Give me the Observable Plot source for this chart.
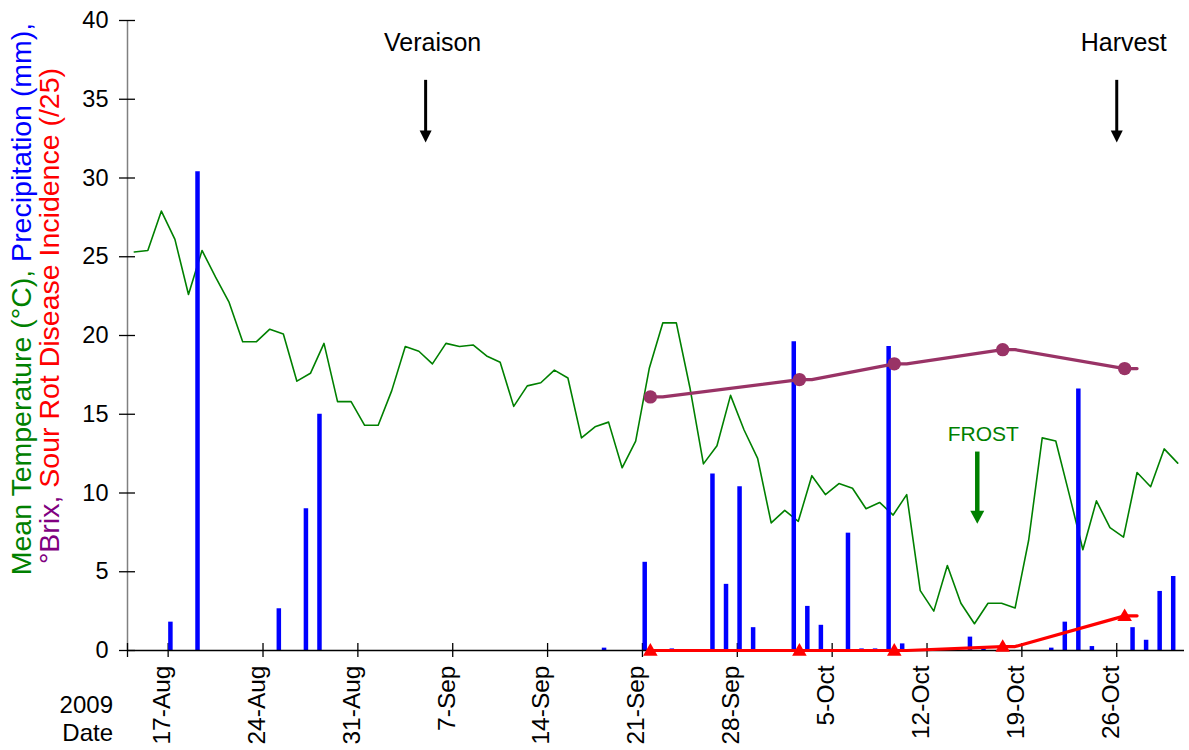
<!DOCTYPE html>
<html>
<head>
<meta charset="utf-8">
<script src="https://cdn.jsdelivr.net/npm/d3@7"></script>
<script src="https://cdn.jsdelivr.net/npm/@observablehq/plot@0.6"></script>
<style>
  body { margin: 0; background: #fff; }
  #chart { width: 1189px; height: 750px; }
</style>
</head>
<body>
<div id="chart"></div>
<script>
// Daily mean temperature (°C), one value per day starting 14 Aug 2009
const tempStart = "2009-08-14";
const temperature = [
  25.3, 25.4, 27.9, 26.1, 22.6, 25.4, 23.7, 22.1, 19.6, 19.6,
  20.4, 20.1, 17.1, 17.6, 19.5, 15.8, 15.8, 14.3, 14.3, 16.5,
  19.3, 19.0, 18.2, 19.5, 19.3, 19.4, 18.7, 18.3, 15.5, 16.8,
  17.0, 17.8, 17.3, 13.5, 14.2, 14.5, 11.6, 13.3, 17.9, 20.8,
  20.8, 16.7, 11.85, 13.0, 16.2, 14.0, 12.2, 8.1, 8.9, 8.2,
  11.1, 9.9, 10.6, 10.3, 9.0, 9.4, 8.6, 9.9, 3.8, 2.5,
  5.4, 3.0, 1.7, 3.0, 3.0, 2.7, 7.0, 13.5, 13.3, 9.9,
  6.4, 9.5, 7.8, 7.2, 11.3, 10.4, 12.8, 11.9
];

// Daily precipitation (mm)
const precipDates = [
  "2009-08-17", "2009-08-19", "2009-08-25", "2009-08-27", "2009-08-28",
  "2009-09-18", "2009-09-21", "2009-09-23", "2009-09-26", "2009-09-27",
  "2009-09-28", "2009-09-29", "2009-10-02", "2009-10-03", "2009-10-04",
  "2009-10-05", "2009-10-06", "2009-10-07", "2009-10-08", "2009-10-09",
  "2009-10-10", "2009-10-15", "2009-10-16", "2009-10-21", "2009-10-22",
  "2009-10-23", "2009-10-24", "2009-10-27", "2009-10-28", "2009-10-29",
  "2009-10-30"
];
const precipValues = [
  1.8, 30.4, 2.65, 9.0, 15.0,
  0.15, 5.6, 0.1, 11.2, 4.2,
  10.4, 1.45, 19.6, 2.8, 1.6,
  0.05, 7.45, 0.1, 0.1, 19.3,
  0.42, 0.85, 0.1, 0.15, 1.8,
  16.6, 0.25, 1.45, 0.65, 3.75,
  4.7
];

// Berry sampling: °Brix and sour rot incidence (/25)
const sampleDates = ["2009-09-21", "2009-10-02", "2009-10-09", "2009-10-17", "2009-10-26"];
const brix = [16.1, 17.2, 18.2, 19.1, 17.9];
const sourRot = [0, 0, 0, 0.25, 2.2];

// Phenology events and frost
const eventLabels = ["Veraison", "Harvest"];
const eventDates = ["2009-09-05", "2009-10-26"];
const frostLabel = "FROST";
const frostDate = "2009-10-15T17:00";

// Axis ticks
const xDomain = ["2009-08-14", "2009-10-31"];
const weekTicks = ["2009-08-17", "2009-08-24", "2009-08-31", "2009-09-07", "2009-09-14",
  "2009-09-21", "2009-09-28", "2009-10-05", "2009-10-12", "2009-10-19", "2009-10-26"];
const yTicks = [0, 5, 10, 15, 20, 25, 30, 35, 40];

const utc = s => new Date(s.length > 10 ? s + "Z" : s + "T00:00Z");

// Build tables for the marks
const t0 = utc(tempStart);
const tempData = temperature.map((v, i) => ({
  date: d3.utcHour.offset(d3.utcDay.offset(t0, i), 12), value: v
}));
const precipData = precipDates.map((d, i) => ({
  date: d3.utcHour.offset(utc(d), 4), value: precipValues[i]
}));
const sampleMarks = sampleDates.map((d, i) => ({
  date: d3.utcHour.offset(utc(d), 14), brix: brix[i], rot: sourRot[i]
}));
// each sample is held for one day in the connecting line
const sampleLine = sampleMarks.flatMap(s => [
  s, { date: d3.utcHour.offset(s.date, 22), brix: s.brix, rot: s.rot }
]);
const eventData = eventLabels.map((l, i) => ({ label: l, date: utc(eventDates[i]) }));
const frostData = [{ label: frostLabel, date: utc(frostDate) }];

const green = "#008000", blue = "#0000FF", plum = "#993366", red = "#FF0000", purple = "#800080";

// filled arrowheads, tip at the anchor point
const headSmall = { draw(c) { c.moveTo(0, 0); c.lineTo(-6, -12); c.lineTo(6, -12); c.closePath(); } };
const headLarge = { draw(c) { c.moveTo(0, 0); c.lineTo(-7, -13); c.lineTo(7, -13); c.closePath(); } };

const fmt = d3.utcFormat("%-d-%b");

const chart = Plot.plot({
  width: 1189,
  height: 750,
  marginLeft: 127,
  marginRight: 5,
  marginTop: 20,
  marginBottom: 100,
  style: { fontFamily: "'Liberation Sans', Arial, sans-serif", fontSize: "23px", color: "#000", background: "#fff" },
  x: { type: "utc", domain: xDomain.map(utc) },
  y: { domain: [0, 40] },
  marks: [
    // axes
    Plot.ruleX([utc(xDomain[0])], { stroke: "#808080", strokeWidth: 1.5 }),
    Plot.axisY({ ticks: yTicks, tickSize: 16, dx: 8, tickFormat: () => "", label: null, strokeWidth: 1.3 }),
    Plot.axisY({ ticks: yTicks, tickSize: 0, tickPadding: 19, label: null, fontSize: 23.5 }),
    Plot.axisX({ ticks: [utc(xDomain[0]), ...weekTicks.map(utc)], tickSize: 14, dy: -7, tickFormat: () => "", label: null, strokeWidth: 1.3 }),
    Plot.axisX({ ticks: weekTicks.map(utc), tickSize: 0, tickPadding: 15, tickRotate: -90, tickFormat: fmt, label: null, fontSize: 24.5, dx: -6 }),

    // temperature
    Plot.line(tempData, { x: "date", y: "value", stroke: green, strokeWidth: 1.6 }),
    // precipitation bars
    Plot.ruleX(precipData, { x: "date", y1: 0, y2: "value", stroke: blue, strokeWidth: 4.5 }),
    Plot.ruleY([0], { stroke: "#000", strokeWidth: 1.3 }),
    // brix
    Plot.line(sampleLine, { x: "date", y: "brix", stroke: plum, strokeWidth: 3.2 }),
    Plot.dot(sampleMarks, { x: "date", y: "brix", r: 6.7, fill: plum }),
    // sour rot
    Plot.line(sampleLine, { x: "date", y: "rot", stroke: red, strokeWidth: 3.2 }),
    Plot.dot(sampleMarks, { x: "date", y: "rot", symbol: "triangle", r: 5.4, fill: red, dy: 1 }),

    // Veraison / Harvest arrows
    Plot.text(eventData, { x: "date", y: 38.6, text: "label", dx: 7, fontSize: 25, fill: "#000" }),
    Plot.ruleX(eventData, { x: "date", y1: 36.2, y2: 32.25, stroke: "#000", strokeWidth: 3, insetBottom: 10 }),
    Plot.dot(eventData, { x: "date", y: 32.25, symbol: headSmall, fill: "#000", stroke: null, r: 5 }),

    // frost arrow
    Plot.text(frostData, { x: "date", y: 13.75, text: "label", dx: 6, fontSize: 21, fill: green }),
    Plot.ruleX(frostData, { x: "date", y1: 12.6, y2: 8.05, stroke: green, strokeWidth: 4.5, insetBottom: 11 }),
    Plot.dot(frostData, { x: "date", y: 8.05, symbol: headLarge, fill: green, stroke: null, r: 5 })
  ]
});

const svg = d3.select(chart);

// multi-coloured y-axis title, two rotated lines
const title1 = svg.append("text")
  .attr("transform", "translate(31,299) rotate(-90)")
  .attr("text-anchor", "middle")
  .style("font-size", "28.5px");
title1.append("tspan").attr("fill", green).text("Mean Temperature (°C), ");
title1.append("tspan").attr("fill", blue).text("Precipitation (mm),");

const title2 = svg.append("text")
  .attr("transform", "translate(59,316) rotate(-90)")
  .attr("text-anchor", "middle")
  .style("font-size", "28.5px");
title2.append("tspan").attr("fill", purple).text("°Brix, ");
title2.append("tspan").attr("fill", red).text("Sour Rot Disease Incidence (/25)");

// x-axis caption
svg.append("text").attr("x", 113).attr("y", 713).attr("text-anchor", "end")
  .style("font-size", "24px").attr("fill", "#000").text("2009");
svg.append("text").attr("x", 113).attr("y", 741).attr("text-anchor", "end")
  .style("font-size", "24px").attr("fill", "#000").text("Date");

document.getElementById("chart").appendChild(chart);
</script>
</body>
</html>
